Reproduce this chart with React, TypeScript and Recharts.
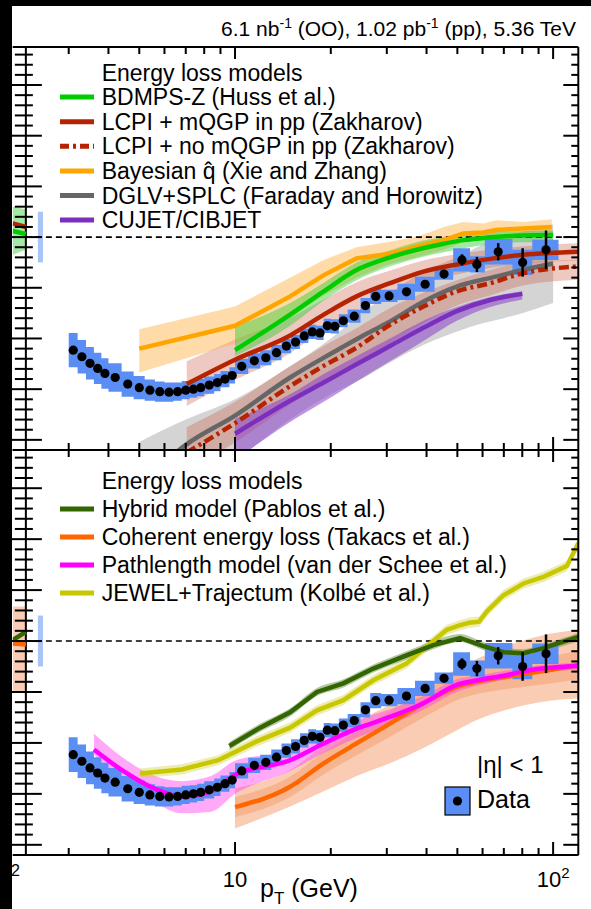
import React from 'react';
import {
  ComposedChart,
  Line,
  Area,
  Scatter,
  XAxis,
  YAxis,
  ReferenceLine,
  ReferenceArea,
  ErrorBar,
} from 'recharts';

// ---- measured R_AA, |eta| < 1 ----
const dataPt = [3.1, 3.3, 3.5, 3.7, 3.9, 4.2, 4.6, 5.0, 5.4, 5.8, 6.2, 6.6, 7.0, 7.4, 7.8, 8.3, 8.8, 9.3, 9.8, 10.5, 11.5, 12.5, 13.5, 14.5, 15.5, 16.5, 17.5, 18.5, 19.5, 20.6, 21.9, 23.7, 25.7, 27.7, 30.5, 34.6, 39.6, 45.4, 51.7, 57.6, 67.2, 80.2, 95];
const binEdges = [3.0, 3.2, 3.4, 3.6, 3.8, 4.0, 4.4, 4.8, 5.2, 5.6, 6.0, 6.4, 6.8, 7.2, 7.6, 8.0, 8.6, 9.0, 9.6, 10, 11, 12, 13, 14, 15, 16, 17, 18, 19, 20, 21.2, 22.6, 24.8, 26.6, 28.8, 32.4, 36.8, 42.4, 48.5, 54.8, 61, 74.5, 86, 104];
const dataRaa = [0.777, 0.764, 0.751, 0.741, 0.731, 0.723, 0.710, 0.703, 0.698, 0.695, 0.694, 0.695, 0.698, 0.700, 0.703, 0.708, 0.713, 0.720, 0.727, 0.745, 0.756, 0.762, 0.772, 0.785, 0.793, 0.805, 0.813, 0.811, 0.825, 0.824, 0.835, 0.844, 0.865, 0.883, 0.884, 0.892, 0.907, 0.927, 0.955, 0.946, 0.971, 0.950, 0.975];
const dataSys = [0.034, 0.033, 0.032, 0.031, 0.030, 0.028, 0.025, 0.023, 0.021, 0.020, 0.019, 0.018, 0.018, 0.017, 0.017, 0.017, 0.017, 0.016, 0.016, 0.015, 0.015, 0.015, 0.015, 0.014, 0.014, 0.014, 0.014, 0.014, 0.014, 0.014, 0.013, 0.013, 0.015, 0.015, 0.012, 0.016, 0.015, 0.011, 0.023, 0.016, 0.025, 0.025, 0.020];
const dataStat = [0.002, 0.002, 0.002, 0.002, 0.002, 0.002, 0.002, 0.002, 0.002, 0.002, 0.002, 0.002, 0.002, 0.002, 0.002, 0.002, 0.002, 0.002, 0.002, 0.003, 0.003, 0.003, 0.003, 0.003, 0.003, 0.003, 0.003, 0.003, 0.003, 0.004, 0.004, 0.004, 0.004, 0.004, 0.005, 0.005, 0.006, 0.008, 0.011, 0.015, 0.017, 0.028, 0.038];
const lumiBox = { ptLo: 2.4, ptHi: 2.49, lo: 0.95, hi: 1.05 };

// ---- upper panel models ----
const bayesPt = [5, 10, 14.9, 19, 24.1, 30, 37.2, 45.3, 52.2, 60.4, 66.2, 80.6, 99];
const bayesLine = [0.780, 0.825, 0.883, 0.925, 0.958, 0.966, 0.981, 0.994, 1.007, 1.009, 1.014, 1.017, 1.020];
const bayesLo = [0.733, 0.790, 0.840, 0.885, 0.920, 0.945, 0.960, 0.975, 0.990, 0.995, 1.000, 1.003, 1.007];
const bayesHi = [0.818, 0.863, 0.920, 0.955, 0.980, 0.990, 1.000, 1.020, 1.030, 1.027, 1.033, 1.030, 1.035];

const bdmpsPt = [10, 14.9, 19, 24.1, 30, 37.2, 45.3, 52.2, 62, 80, 100];
const bdmpsLine = [0.777, 0.847, 0.893, 0.935, 0.958, 0.975, 0.987, 0.994, 0.999, 1.003, 1.004];
const bdmpsLo = [0.765, 0.825, 0.875, 0.915, 0.940, 0.958, 0.970, 0.978, 0.985, 0.990, 0.990];
const bdmpsHi = [0.824, 0.870, 0.910, 0.950, 0.972, 0.990, 1.000, 1.005, 1.010, 1.012, 1.013];

const lcpiPt = [7.05, 10, 14.9, 19, 24.1, 30.7, 39.1, 49.8, 63.4, 80.8, 120];
const lcpiLine = [0.710, 0.758, 0.806, 0.847, 0.883, 0.909, 0.932, 0.946, 0.957, 0.965, 0.971];
const lcpiLo = [0.667, 0.718, 0.771, 0.817, 0.855, 0.884, 0.910, 0.926, 0.939, 0.948, 0.954];
const lcpiHi = [0.755, 0.798, 0.841, 0.877, 0.911, 0.934, 0.954, 0.966, 0.975, 0.982, 0.988];

const lcpiNoPt = [7.05, 10, 14.9, 19, 24.1, 30.7, 39.1, 49.8, 63.4, 80.8, 120];
const lcpiNoLine = [0.575, 0.633, 0.706, 0.746, 0.782, 0.827, 0.863, 0.893, 0.909, 0.929, 0.942];
const lcpiNoLo = [0.540, 0.595, 0.670, 0.710, 0.745, 0.790, 0.830, 0.865, 0.885, 0.905, 0.916];
const lcpiNoHi = [0.625, 0.675, 0.745, 0.785, 0.820, 0.860, 0.890, 0.915, 0.935, 0.950, 0.955];

const dglvPt = [5, 7, 10, 14.9, 20, 25, 30, 40, 50, 60, 70, 80, 100];
const dglvLine = [0.510, 0.590, 0.648, 0.723, 0.770, 0.804, 0.830, 0.876, 0.903, 0.916, 0.926, 0.935, 0.948];
const dglvLo = [0.420, 0.500, 0.560, 0.640, 0.690, 0.720, 0.749, 0.790, 0.814, 0.830, 0.840, 0.850, 0.870];
const dglvHi = [0.596, 0.640, 0.680, 0.745, 0.800, 0.850, 0.885, 0.935, 0.960, 0.985, 1.000, 1.010, 1.025];

const cujetPt = [10, 14.9, 19, 24.1, 30.7, 39.1, 49.8, 63.4, 80];
const cujetLine = [0.612, 0.677, 0.713, 0.749, 0.785, 0.821, 0.854, 0.876, 0.888];
const cujetLo = [0.560, 0.635, 0.675, 0.715, 0.755, 0.795, 0.835, 0.862, 0.877];
const cujetHi = [0.641, 0.690, 0.730, 0.765, 0.800, 0.835, 0.862, 0.882, 0.893];

// pieces entering from the left edge of the frame
const edgePt = [2.0, 2.2];
const edgeGreenLo = [0.965, 0.975];
const edgeGreenHi = [1.060, 1.055];
const edgeGreenLine = [1.012, 1.006];
const edgeRedLine = [1.027, 1.020];
const edgeOrangeLo = [0.900, 0.900];
const edgeOrangeHi = [1.068, 1.068];
const edgeOrangeLine = [0.995, 0.993];
const edgeHybridLine = [1.002, 1.018];

// ---- lower panel models ----
const hybridPt = [9.6, 12, 14.9, 18.1, 21.9, 27.2, 34.6, 42, 51, 60.4, 69.8, 80.7, 93.2, 120];
const hybridLine = [0.794, 0.830, 0.860, 0.900, 0.917, 0.946, 0.972, 0.992, 1.006, 0.990, 0.978, 0.976, 0.986, 1.008];
const hybridLo = [0.786, 0.822, 0.852, 0.892, 0.909, 0.938, 0.964, 0.984, 0.998, 0.982, 0.970, 0.968, 0.978, 1.000];
const hybridHi = [0.802, 0.838, 0.868, 0.908, 0.925, 0.954, 0.980, 1.000, 1.014, 0.998, 0.986, 0.984, 0.994, 1.016];

const coherentPt = [10, 14.9, 19, 24.1, 30.7, 39.1, 49.8, 57.6, 71.3, 90.9, 120];
const coherentLine = [0.674, 0.714, 0.760, 0.799, 0.838, 0.878, 0.910, 0.920, 0.930, 0.940, 0.953];
const coherentLo = [0.632, 0.675, 0.705, 0.735, 0.760, 0.790, 0.825, 0.845, 0.865, 0.880, 0.887];
const coherentHi = [0.711, 0.747, 0.795, 0.840, 0.875, 0.910, 0.945, 0.965, 0.990, 1.010, 1.022];
const coherentInLo = [0.654, 0.694, 0.738, 0.776, 0.812, 0.850, 0.884, 0.896, 0.906, 0.914, 0.925];
const coherentInHi = [0.694, 0.734, 0.782, 0.822, 0.862, 0.902, 0.934, 0.944, 0.954, 0.966, 0.981];

const pathPt = [3.6, 4.4, 5.6, 6.8, 8.4, 10, 14.9, 19, 24.1, 30.7, 39.1, 49.8, 57.6, 71.3, 84.7, 120];
const pathLine = [0.787, 0.747, 0.710, 0.695, 0.705, 0.737, 0.766, 0.799, 0.828, 0.851, 0.878, 0.914, 0.923, 0.933, 0.943, 0.951];
const pathLo = [0.778, 0.720, 0.682, 0.662, 0.665, 0.700, 0.745, 0.780, 0.810, 0.835, 0.865, 0.900, 0.912, 0.925, 0.935, 0.944];
const pathHi = [0.818, 0.773, 0.735, 0.725, 0.735, 0.765, 0.785, 0.820, 0.845, 0.866, 0.892, 0.925, 0.932, 0.942, 0.950, 0.958];

const jewelPt = [5.03, 6.8, 8.86, 11.6, 14.9, 18.1, 21.9, 27.2, 34.6, 42, 46.3, 51, 54.5, 58.5, 61.9, 69.8, 80.7, 93.2, 110.4, 120];
const jewelLine = [0.740, 0.748, 0.766, 0.802, 0.830, 0.864, 0.884, 0.923, 0.956, 1.000, 1.022, 1.031, 1.036, 1.038, 1.058, 1.090, 1.113, 1.126, 1.147, 1.192];

// ---- axes ----
const xTicks = [3, 4, 5, 6, 7, 8, 9, 10, 20, 30, 40, 50, 60, 70, 80, 90, 100];
const X_DOMAIN: [number, number] = [2, 120];
const Y_DOMAIN: [number, number] = [0.58, 1.375];
const yTicks = Array.from({ length: 40 }, (_, i) => Math.round((0.58 + 0.02 * i) * 100) / 100);
const AXIS_PT = 2.2;

const W = 591;
const H = 909;
const PLOT_L = 12.7;
const PLOT_R = 578.3;
const AXIS_SHIFT = ((PLOT_R - PLOT_L) * Math.log(AXIS_PT / X_DOMAIN[0])) / Math.log(X_DOMAIN[1] / X_DOMAIN[0]);
const FONT = '"Liberation Sans", Arial, Helvetica, sans-serif';

const isDecade = (v: number) => v === 10 || v === 100;
const isMajorY = (v: number) => Math.abs(v * 10 - Math.round(v * 10)) < 1e-6;

const TopTick = (p: any) => (
  <line x1={p.x} x2={p.x} y1={p.y} y2={p.y + (isDecade(p.payload.value) ? 12 : 7)} stroke="#000" strokeWidth={2} />
);
const UpperBottomTick = (p: any) => (
  <line x1={p.x} x2={p.x} y1={p.y} y2={p.y - (isDecade(p.payload.value) ? 13 : 7)} stroke="#000" strokeWidth={2} />
);
const LowerBottomTick = (p: any) => {
  const v = p.payload.value;
  return (
    <g>
      <line x1={p.x} x2={p.x} y1={p.y} y2={p.y - (isDecade(v) ? 13 : 7)} stroke="#000" strokeWidth={2} />
      {v === 10 && (
        <text x={p.x} y={p.y + 32} textAnchor="middle" fontFamily={FONT} fontSize={22} fill="#000">10</text>
      )}
      {v === 100 && (
        <text x={p.x} y={p.y + 32} textAnchor="middle" fontFamily={FONT} fontSize={22} fill="#000">
          10<tspan dy={-9} fontSize={15}>2</tspan>
        </text>
      )}
    </g>
  );
};
const LeftTick = (p: any) => {
  const major = isMajorY(p.payload.value);
  const ax = p.x + AXIS_SHIFT;
  return <line x1={ax - (major ? 14 : 11)} x2={ax + (major ? 16 : 7)} y1={p.y} y2={p.y} stroke="#000" strokeWidth={2} />;
};
const RightTick = (p: any) => {
  const major = isMajorY(p.payload.value);
  return <line x1={p.x - (major ? 15 : 7)} x2={p.x} y1={p.y} y2={p.y} stroke="#000" strokeWidth={2} />;
};

const bandArea = (key: string, pt: number[], lo: number[], hi: number[], fill: string, op: number, type: any = 'monotone') => (
  <Area
    key={key}
    data={pt.map((p, i) => ({ pt: p, v: [lo[i], hi[i]] }))}
    dataKey="v"
    xAxisId="b"
    yAxisId="l"
    type={type}
    stroke="none"
    fill={fill}
    fillOpacity={op}
    dot={false}
    activeDot={false}
    isAnimationActive={false}
  />
);

const modelLine = (key: string, pt: number[], ys: number[], color: string, dash?: string, type: any = 'monotone', width = 4.5) => (
  <Line
    key={key}
    data={pt.map((p, i) => ({ pt: p, v: ys[i] }))}
    dataKey="v"
    xAxisId="b"
    yAxisId="l"
    type={type}
    stroke={color}
    strokeWidth={width}
    strokeDasharray={dash}
    dot={false}
    activeDot={false}
    isAnimationActive={false}
  />
);

// systematic boxes as a stepped band over the bin edges
const boxData = binEdges.map((e, i) => {
  const j = Math.min(i, dataRaa.length - 1);
  return { pt: e, v: [dataRaa[j] - dataSys[j], dataRaa[j] + dataSys[j]] };
});
const dotData = dataPt.map((p, i) => ({ pt: p, r: dataRaa[i], stat: dataStat[i] }));

const DotShape = (p: any) => <circle cx={p.cx} cy={p.cy} r={4.6} fill="#000" />;

const dataLayers = () => [
  <Area key="boxes" data={boxData} dataKey="v" xAxisId="b" yAxisId="l" type="stepAfter" stroke="none" fill="#5a8ef5" fillOpacity={1} dot={false} activeDot={false} isAnimationActive={false} />,
];
const dataDots = () => [
  <Scatter key="dots" data={dotData} dataKey="r" xAxisId="b" yAxisId="l" shape={DotShape} isAnimationActive={false}>
    <ErrorBar dataKey="stat" direction="y" width={0} stroke="#000" strokeWidth={2.5} isAnimationActive={false} />
  </Scatter>,
];

// axes have a 1px box (a 0px box is not drawn), margins are reduced accordingly
const frame = (bottomTick: any) => [
  <XAxis key="xb" xAxisId="b" dataKey="pt" type="number" scale="log" domain={X_DOMAIN} allowDataOverflow ticks={xTicks} interval={0} height={1} tickSize={0} tickMargin={0} tickLine={false} axisLine={{ stroke: '#000', strokeWidth: 2 }} tick={bottomTick} />,
  <XAxis key="xt" xAxisId="t" orientation="top" dataKey="pt" type="number" scale="log" domain={X_DOMAIN} allowDataOverflow ticks={xTicks} interval={0} height={1} tickSize={0} tickMargin={0} tickLine={false} axisLine={{ stroke: '#000', strokeWidth: 2 }} tick={TopTick} />,
  <YAxis key="yl" yAxisId="l" type="number" domain={Y_DOMAIN} allowDataOverflow ticks={yTicks} interval={0} width={1} tickSize={0} tickMargin={0} tickLine={false} axisLine={false} tick={LeftTick} />,
  <YAxis key="yr" yAxisId="r" orientation="right" type="number" domain={Y_DOMAIN} allowDataOverflow ticks={yTicks} interval={0} width={1} tickSize={0} tickMargin={0} tickLine={false} axisLine={{ stroke: '#000', strokeWidth: 2 }} tick={RightTick} />,
  <ReferenceLine key="yaxis" xAxisId="b" yAxisId="l" x={AXIS_PT} stroke="#000" strokeWidth={2} />,
  <ReferenceArea key="lumi" xAxisId="b" yAxisId="l" x1={lumiBox.ptLo} x2={lumiBox.ptHi} y1={lumiBox.lo} y2={lumiBox.hi} fill="#a9c5f5" fillOpacity={1} stroke="none" />,
  <ReferenceLine key="unity" xAxisId="b" yAxisId="l" segment={[{ x: AXIS_PT, y: 1 }, { x: X_DOMAIN[1], y: 1 }]} stroke="#000" strokeWidth={1.6} strokeDasharray="6 4" />,
];

const upperLegend = [
  { label: 'BDMPS-Z (Huss et al.)', color: '#00cc00' },
  { label: 'LCPI + mQGP in pp (Zakharov)', color: '#b52300' },
  { label: 'LCPI + no mQGP in pp (Zakharov)', color: '#b52300', dash: '9 4 3 4' },
  { label: 'Bayesian q\u0302 (Xie and Zhang)', color: '#ffa500' },
  { label: 'DGLV+SPLC (Faraday and Horowitz)', color: '#666666' },
  { label: 'CUJET/CIBJET', color: '#7b2fbe' },
];
const lowerLegend = [
  { label: 'Hybrid model (Pablos et al.)', color: '#336600' },
  { label: 'Coherent energy loss (Takacs et al.)', color: '#ff6600' },
  { label: 'Pathlength model (van der Schee et al.)', color: '#ff00ff' },
  { label: 'JEWEL+Trajectum (Kolbé et al.)', color: '#c8c800' },
];

const LegendBlock = ({ items, top, step }: { items: any[]; top: number; step: number }) => (
  <g fontFamily={FONT} fontSize={23} fill="#000">
    <text x={101.7} y={top}>Energy loss models</text>
    {items.map((it, i) => {
      const base = top + step * (i + 1);
      return (
        <g key={it.label}>
          <line x1={60} x2={94} y1={base - 8} y2={base - 8} stroke={it.color} strokeWidth={5} strokeDasharray={it.dash} />
          <text x={101.7} y={base}>{it.label}</text>
        </g>
      );
    })}
  </g>
);

const marginFor = (top: number, bottom: number) => ({
  top: top - 1,
  right: W - PLOT_R - 1,
  bottom: H - bottom - 1,
  left: PLOT_L - 1,
});

const App: React.FC = () => (
  <div style={{ position: 'absolute', left: 0, top: 0, width: W, height: H, background: '#fff', overflow: 'hidden' }}>
    <div style={{ position: 'absolute', left: 0, top: 0 }}>
      <ComposedChart width={W} height={H} margin={marginFor(47, 450)}>
        {frame(UpperBottomTick)}
        {bandArea('edgeG', edgePt, edgeGreenLo, edgeGreenHi, '#33cc33', 0.45, 'linear')}
        {bandArea('dglvB', dglvPt, dglvLo, dglvHi, '#999999', 0.42)}
        {bandArea('lcpiNoB', lcpiNoPt, lcpiNoLo, lcpiNoHi, '#c85a46', 0.33)}
        {bandArea('lcpiB', lcpiPt, lcpiLo, lcpiHi, '#c85a46', 0.33)}
        {bandArea('cujetB', cujetPt, cujetLo, cujetHi, '#8a40c8', 0.55)}
        {bandArea('bayesB', bayesPt, bayesLo, bayesHi, '#ffb040', 0.45, 'linear')}
        {bandArea('bdmpsB', bdmpsPt, bdmpsLo, bdmpsHi, '#33cc33', 0.45)}
        {dataLayers()}
        {modelLine('edgeGL', edgePt, edgeGreenLine, '#00cc00', undefined, 'linear')}
        {modelLine('edgeRL', edgePt, edgeRedLine, '#b52300', undefined, 'linear')}
        {modelLine('dglvL', dglvPt, dglvLine, '#666666')}
        {modelLine('cujetL', cujetPt, cujetLine, '#7b2fbe')}
        {modelLine('lcpiNoL', lcpiNoPt, lcpiNoLine, '#b52300', '10 4 3 4')}
        {modelLine('lcpiL', lcpiPt, lcpiLine, '#b52300')}
        {modelLine('bayesL', bayesPt, bayesLine, '#ffa500', undefined, 'linear')}
        {modelLine('bdmpsL', bdmpsPt, bdmpsLine, '#00cc00')}
        {dataDots()}
      </ComposedChart>
    </div>
    <div style={{ position: 'absolute', left: 0, top: 0 }}>
      <ComposedChart width={W} height={H} margin={marginFor(450, 855)}>
        {frame(LowerBottomTick)}
        {bandArea('edgeO', edgePt, edgeOrangeLo, edgeOrangeHi, '#f08040', 0.4, 'linear')}
        {bandArea('cohB', coherentPt, coherentLo, coherentHi, '#f08040', 0.4)}
        {bandArea('cohIB', coherentPt, coherentInLo, coherentInHi, '#f08040', 0.3)}
        {bandArea('pathB', pathPt, pathLo, pathHi, '#ff40f0', 0.45)}
        {bandArea('jewelB', jewelPt, jewelLine.map((v) => v - 0.01), jewelLine.map((v) => v + 0.01), '#d0d040', 0.4, 'linear')}
        {bandArea('hybB', hybridPt, hybridLo, hybridHi, '#5a8a30', 0.45)}
        {dataLayers()}
        {modelLine('edgeOL', edgePt, edgeOrangeLine, '#ff6600', undefined, 'linear')}
        {modelLine('edgeHL', edgePt, edgeHybridLine, '#336600', undefined, 'linear')}
        {modelLine('cohL', coherentPt, coherentLine, '#ff6600')}
        {modelLine('pathL', pathPt, pathLine, '#ff00ff')}
        {modelLine('jewelL', jewelPt, jewelLine, '#c8c800', undefined, 'linear')}
        {modelLine('hybL', hybridPt, hybridLine, '#336600', undefined, 'linear')}
        {dataDots()}
      </ComposedChart>
    </div>
    <svg width={W} height={H} style={{ position: 'absolute', left: 0, top: 0, pointerEvents: 'none' }}>
      <text x={576} y={36} textAnchor="end" fontFamily={FONT} fontSize={21} fill="#000">
        6.1 nb<tspan dy={-8} fontSize={14}>-1</tspan>
        <tspan dy={8}> (OO), 1.02 pb</tspan>
        <tspan dy={-8} fontSize={14}>-1</tspan>
        <tspan dy={8}> (pp), 5.36 TeV</tspan>
      </text>
      <LegendBlock items={upperLegend} top={80.5} step={24.6} />
      <LegendBlock items={lowerLegend} top={489} step={28} />
      <text x={477} y={773} fontFamily={FONT} fontSize={24} fill="#000">|η| &lt; 1</text>
      <rect x={445} y={787} width={25} height={28} fill="#5a8ef5" stroke="#000" strokeWidth={1.2} />
      <circle cx={457.5} cy={801} r={4.6} fill="#000" />
      <text x={477} y={808} fontFamily={FONT} fontSize={25} fill="#000">Data</text>
      <text x={260} y={897} fontFamily={FONT} fontSize={25} fill="#000">
        p<tspan dy={7} fontSize={17}>T</tspan>
        <tspan dy={-7}> (GeV)</tspan>
      </text>
      <text x={11} y={876} fontFamily={FONT} fontSize={16} fill="#000">2</text>
      <rect x={0} y={0} width={W} height={6} fill="#000" />
      <rect x={0} y={0} width={12} height={H} fill="#000" />
    </svg>
  </div>
);

export default App;
